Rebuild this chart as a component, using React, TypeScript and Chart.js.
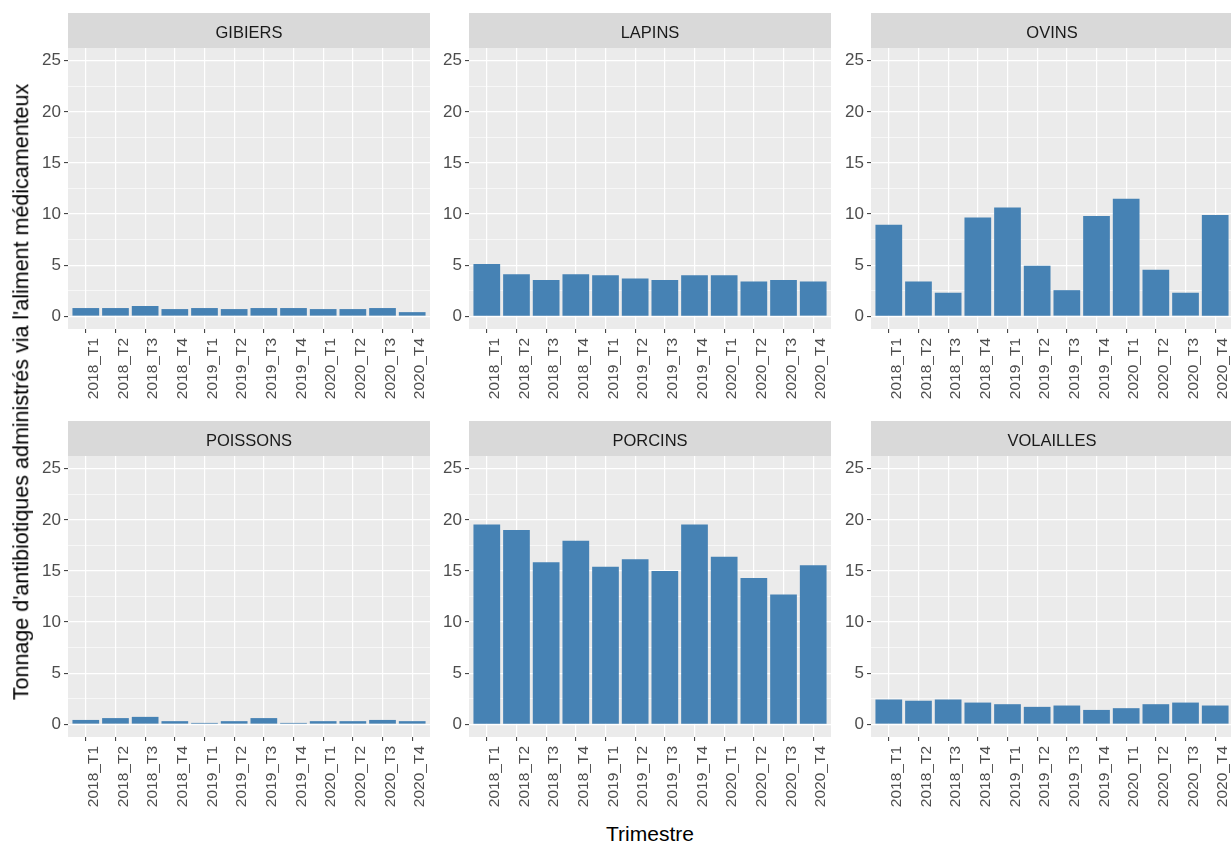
import React, { useEffect, useRef } from "react";
import { Chart, registerables } from "chart.js";

Chart.register(...registerables);

// ---- Data ----
const quarters = [
  "2018_T1", "2018_T2", "2018_T3", "2018_T4",
  "2019_T1", "2019_T2", "2019_T3", "2019_T4",
  "2020_T1", "2020_T2", "2020_T3", "2020_T4",
];
const gibiers = [0.8, 0.8, 1.0, 0.7, 0.8, 0.7, 0.8, 0.8, 0.7, 0.7, 0.8, 0.4];
const lapins = [5.1, 4.1, 3.55, 4.1, 4.0, 3.7, 3.55, 4.0, 4.0, 3.4, 3.55, 3.4];
const ovins = [8.95, 3.4, 2.3, 9.65, 10.65, 4.95, 2.55, 9.8, 11.5, 4.55, 2.3, 9.9];
const poissons = [0.42, 0.6, 0.72, 0.3, 0.13, 0.3, 0.6, 0.13, 0.3, 0.3, 0.42, 0.3];
const porcins = [19.55, 19.0, 15.85, 17.95, 15.4, 16.15, 15.0, 19.55, 16.4, 14.3, 12.7, 15.55];
const volailles = [2.42, 2.3, 2.42, 2.12, 1.96, 1.7, 1.83, 1.4, 1.57, 1.96, 2.12, 1.83];

const panelTitles = ["GIBIERS", "LAPINS", "OVINS", "POISSONS", "PORCINS", "VOLAILLES"];
const panelValues = [gibiers, lapins, ovins, poissons, porcins, volailles];

const yMajorTicks = [0, 5, 10, 15, 20, 25];
const yMinorTicks = [2.5, 7.5, 12.5, 17.5, 22.5];

const xTitle = "Trimestre";
const yTitle = "Tonnage d'antibiotiques administrés via l'aliment médicamenteux";

// ---- Layout ----
const FONT = "'Liberation Sans', Arial, Helvetica, sans-serif";
const STRIP = 35;
const PANEL_W = 362;
const PANEL_H = 281;
const YW = 40;
const XH = 80;
const colLefts = [68, 469, 871];
const rowTops = [13, 421];

const isMajor = (v: number) => Math.abs(v % 5) < 1e-6;

function makeBgPlugin(title: string) {
  return {
    id: "facetBg",
    beforeDraw(chart: any) {
      const { ctx, chartArea } = chart;
      const { left, top, right, bottom } = chartArea;
      ctx.save();
      ctx.fillStyle = "#EBEBEB";
      ctx.fillRect(left, top, right - left, bottom - top);
      ctx.fillStyle = "#D9D9D9";
      ctx.fillRect(left, top - STRIP, right - left, STRIP);
      ctx.fillStyle = "#1A1A1A";
      ctx.font = `16.5px ${FONT}`;
      ctx.textAlign = "center";
      ctx.textBaseline = "middle";
      ctx.fillText(title, (left + right) / 2, top - STRIP / 2 + 3);
      ctx.restore();
    },
  };
}

function Panel({ title, values, left, top }: { title: string; values: number[]; left: number; top: number }) {
  const ref = useRef<HTMLCanvasElement>(null);
  useEffect(() => {
    if (!ref.current) return;
    const allY = [...yMajorTicks, ...yMinorTicks].sort((a, b) => a - b);
    const chart = new Chart(ref.current, {
      type: "bar",
      data: {
        datasets: [
          {
            data: values.map((v, i) => ({ x: i + 1, y: v })),
            backgroundColor: "#4682B4",
            borderWidth: 0,
            barPercentage: 0.9,
            categoryPercentage: 1,
          },
        ],
      },
      options: {
        animation: false,
        responsive: false,
        maintainAspectRatio: false,
        layout: { padding: { top: STRIP, left: 0, right: 0, bottom: 0 } },
        plugins: {
          legend: { display: false },
          tooltip: { enabled: false },
          title: { display: false },
        },
        scales: {
          x: {
            type: "linear",
            offset: false,
            min: 0.4,
            max: 12.6,
            afterBuildTicks: (s: any) => {
              s.ticks = quarters.map((_, i) => ({ value: i + 1 }));
            },
            afterFit: (s: any) => {
              s.height = XH;
              s.paddingLeft = 0;
              s.paddingRight = 0;
            },
            ticks: {
              autoSkip: false,
              minRotation: 90,
              maxRotation: 90,
              callback: (v: any) => quarters[Math.round(Number(v)) - 1] ?? "",
              color: "#4D4D4D",
              font: { family: FONT, size: 15.5 },
              padding: 5,
              labelOffset: 8,
            },
            grid: {
              offset: false,
              color: "#FFFFFF",
              lineWidth: 1.2,
              tickLength: 4,
              tickColor: "#333333",
              tickWidth: 1,
            },
            border: { display: false },
          },
          y: {
            min: -1.25,
            max: 26.25,
            afterBuildTicks: (s: any) => {
              s.ticks = allY.map((v) => ({ value: v }));
            },
            afterFit: (s: any) => {
              s.width = YW;
              s.paddingTop = 0;
              s.paddingBottom = 0;
            },
            ticks: {
              autoSkip: false,
              callback: (v: any) => (isMajor(Number(v)) ? String(v) : ""),
              color: "#4D4D4D",
              font: { family: FONT, size: 17 },
              padding: 3,
            },
            grid: {
              color: "#FFFFFF",
              lineWidth: (ctx: any) => (ctx.tick && isMajor(ctx.tick.value) ? 1.2 : 0.6),
              tickLength: 4,
              tickColor: (ctx: any) => (ctx.tick && isMajor(ctx.tick.value) ? "#333333" : "rgba(0,0,0,0)"),
              tickWidth: 1,
            },
            border: { display: false },
          },
        },
      } as any,
      plugins: [makeBgPlugin(title)],
    });
    return () => chart.destroy();
  }, [title, values]);

  return (
    <canvas
      ref={ref}
      width={YW + PANEL_W}
      height={STRIP + PANEL_H + XH}
      style={{ position: "absolute", left: left - YW, top, width: YW + PANEL_W, height: STRIP + PANEL_H + XH }}
    />
  );
}

export default function App() {
  return (
    <div
      style={{
        position: "absolute",
        left: 0,
        top: 0,
        width: 1231,
        height: 843,
        background: "#FFFFFF",
        overflow: "hidden",
        fontFamily: FONT,
      }}
    >
      {panelTitles.map((t, i) => (
        <Panel key={t} title={t} values={panelValues[i]} left={colLefts[i % 3]} top={rowTops[Math.floor(i / 3)]} />
      ))}
      <div
        style={{
          position: "absolute",
          left: 650,
          top: 833,
          transform: "translate(-50%, -50%)",
          fontSize: 21,
          lineHeight: 1,
          color: "#000",
          whiteSpace: "nowrap",
        }}
      >
        {xTitle}
      </div>
      <div
        style={{
          position: "absolute",
          left: 22,
          top: 392,
          transform: "translate(-50%, -50%) rotate(-90deg)",
          fontSize: 21.5,
          lineHeight: 1,
          color: "#000",
          whiteSpace: "nowrap",
        }}
      >
        {yTitle}
      </div>
    </div>
  );
}
